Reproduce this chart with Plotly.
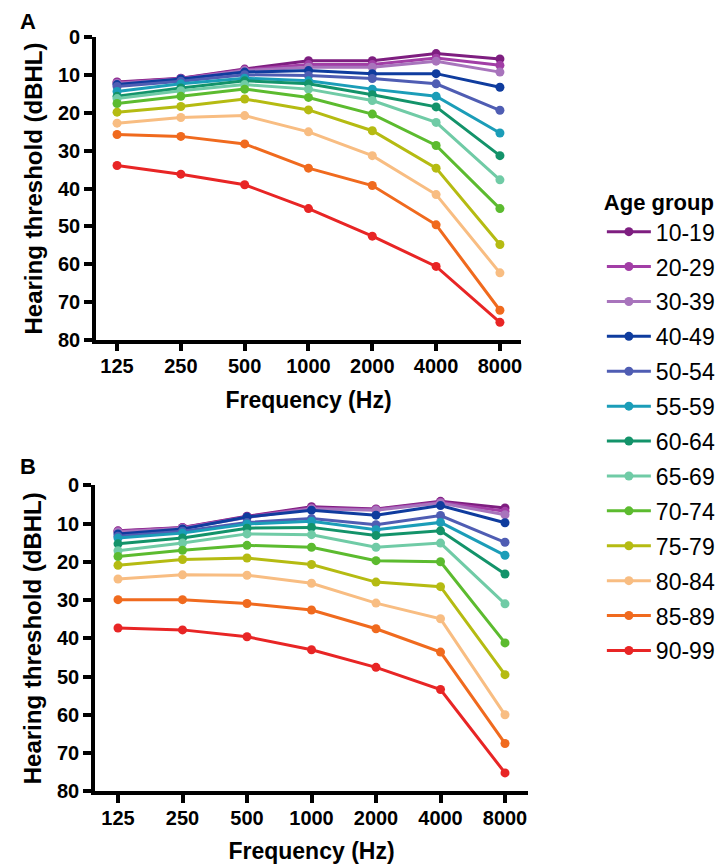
import plotly.graph_objects as go

# frequencies (categories) and age groups
FREQS = ["125", "250", "500", "1000", "2000", "4000", "8000"]
AGE_GROUPS = ["10-19", "20-29", "30-39", "40-49", "50-54", "55-59", "60-64",
              "65-69", "70-74", "75-79", "80-84", "85-89", "90-99"]
COLORS = ["#7E1E80", "#A23EA6", "#A874BC", "#0F3C9E", "#4F5DB3", "#1B9DB8", "#13936A",
          "#70CBA6", "#5CBB2F", "#B5BB12", "#F8BD82", "#F06A1E", "#E82525"]

###### PANEL A ######
A_10_19 = [11.8, 10.8, 8.4, 6.2, 6.2, 4.3, 5.7]
A_20_29 = [12.0, 10.9, 8.6, 7.2, 7.2, 5.5, 7.4]
A_30_39 = [12.2, 11.0, 8.8, 7.9, 7.9, 6.3, 9.2]
A_40_49 = [12.5, 11.0, 9.2, 8.8, 9.6, 9.6, 13.2]
A_50_54 = [13.0, 11.6, 9.9, 10.1, 10.9, 12.3, 19.3]
A_55_59 = [14.3, 12.3, 10.8, 11.5, 13.7, 15.6, 25.3]
A_60_64 = [15.6, 13.4, 11.5, 12.3, 15.2, 18.4, 31.3]
A_65_69 = [16.2, 14.1, 12.5, 13.7, 16.7, 22.5, 37.7]
A_70_74 = [17.5, 15.6, 13.7, 15.9, 20.3, 28.6, 45.3]
A_75_79 = [19.8, 18.3, 16.3, 19.2, 24.7, 34.6, 54.8]
A_80_84 = [22.7, 21.2, 20.7, 25.0, 31.3, 41.6, 62.3]
A_85_89 = [25.7, 26.2, 28.2, 34.6, 39.2, 49.6, 72.2]
A_90_99 = [33.9, 36.2, 39.0, 45.3, 52.6, 60.6, 75.4]

###### PANEL B ######
B_10_19 = [11.9, 11.0, 8.1, 5.6, 6.2, 4.2, 5.9]
B_20_29 = [12.0, 11.1, 8.2, 5.9, 6.3, 4.4, 6.8]
B_30_39 = [12.2, 11.2, 8.4, 6.1, 6.5, 4.6, 7.7]
B_40_49 = [12.7, 11.4, 8.3, 6.5, 7.8, 5.3, 9.8]
B_50_54 = [13.3, 12.0, 9.7, 8.7, 10.3, 7.9, 14.9]
B_55_59 = [13.8, 12.5, 10.1, 9.4, 11.6, 9.7, 18.3]
B_60_64 = [15.3, 13.8, 11.2, 11.0, 13.1, 11.9, 23.2]
B_65_69 = [17.1, 15.1, 12.7, 12.9, 16.2, 15.1, 31.0]
B_70_74 = [18.6, 17.0, 15.7, 16.2, 19.7, 20.0, 41.2]
B_75_79 = [20.9, 19.4, 19.0, 20.7, 25.3, 26.5, 49.5]
B_80_84 = [24.5, 23.4, 23.5, 25.6, 30.8, 34.9, 60.0]
B_85_89 = [29.9, 29.9, 30.9, 32.6, 37.5, 43.6, 67.5]
B_90_99 = [37.3, 37.8, 39.6, 43.0, 47.6, 53.4, 75.2]

PANEL_A = [A_10_19, A_20_29, A_30_39, A_40_49, A_50_54, A_55_59, A_60_64,
           A_65_69, A_70_74, A_75_79, A_80_84, A_85_89, A_90_99]
PANEL_B = [B_10_19, B_20_29, B_30_39, B_40_49, B_50_54, B_55_59, B_60_64,
           B_65_69, B_70_74, B_75_79, B_80_84, B_85_89, B_90_99]

FONT = "Liberation Sans, Arial, sans-serif"

fig = go.Figure()

for panel, xa, ya, show in [(PANEL_A, "x", "y", True), (PANEL_B, "x2", "y2", False)]:
    for name, color, vals in zip(AGE_GROUPS, COLORS, panel):
        fig.add_trace(go.Scatter(
            x=FREQS, y=vals, xaxis=xa, yaxis=ya,
            mode="lines+markers", name=name, legendgroup=name,
            showlegend=show,
            line=dict(color=color, width=3),
            marker=dict(color=color, size=9),
        ))

tickfont = dict(family=FONT, size=20, color="black", weight="bold")
titlefont = dict(family=FONT, size=23, color="black", weight="bold")

def xaxis_style(domain, rng):
    return dict(
        domain=domain, type="category", range=rng, automargin=False,
        showgrid=False, zeroline=False,
        showline=True, linecolor="black", linewidth=3.5,
        ticks="outside", ticklen=8, tickwidth=3.5, tickcolor="black",
        tickfont=tickfont, ticklabelstandoff=-2,
        title=dict(text="Frequency (Hz)", font=titlefont, standoff=16),
    )

def yaxis_style(domain, anchor):
    return dict(
        domain=domain, anchor=anchor, range=[80, 0], automargin=False,
        tickmode="array", tickvals=[0, 10, 20, 30, 40, 50, 60, 70, 80],
        showgrid=False, zeroline=False,
        showline=True, linecolor="black", linewidth=3.5,
        ticks="outside", ticklen=8, tickwidth=3.5, tickcolor="black",
        tickfont=tickfont,
        title=dict(text="Hearing threshold (dBHL)",
                   font=dict(family=FONT, size=24, color="black", weight="bold"), standoff=10),
    )

fig.update_layout(
    width=726, height=868,
    margin=dict(l=0, r=0, t=0, b=0, autoexpand=False),
    paper_bgcolor="white", plot_bgcolor="white",
    xaxis=dict(xaxis_style([0.1212, 0.7066], [-0.33, 6.33]), anchor="y"),
    yaxis=yaxis_style([0.6178, 0.9662], "x"),
    xaxis2=dict(xaxis_style([0.1198, 0.7163], [-0.357, 6.357]), anchor="y2"),
    yaxis2=yaxis_style([0.0976, 0.4501], "x2"),
    legend=dict(
        x=0.818, y=0.80, xanchor="left", yanchor="top",
        title=dict(text="Age group", font=dict(family=FONT, size=22, color="black", weight="bold")),
        font=dict(family=FONT, size=23, color="black"),
        itemwidth=44,
        tracegroupgap=2,
        bgcolor="rgba(0,0,0,0)",
    ),
    annotations=[
        dict(text="A", x=10 / 726, y=1 - 14 / 868, xref="paper", yref="paper",
             xanchor="left", yanchor="middle", showarrow=False,
             font=dict(family=FONT, size=22, color="black", weight="bold")),
        dict(text="B", x=10 / 726, y=1 - 459 / 868, xref="paper", yref="paper",
             xanchor="left", yanchor="middle", showarrow=False,
             font=dict(family=FONT, size=22, color="black", weight="bold")),
    ],
)

fig.write_html("out.html")
